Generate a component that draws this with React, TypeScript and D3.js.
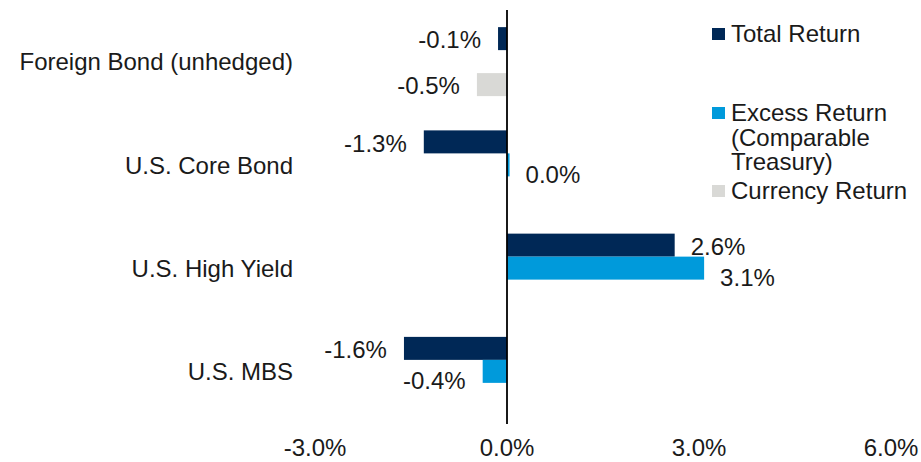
import React from 'react';
import * as d3 from 'd3';

const categories = ['Foreign Bond (unhedged)', 'U.S. Core Bond', 'U.S. High Yield', 'U.S. MBS'];
const seriesNames = ['Total Return', 'Excess Return', 'Currency Return'];
const totalReturn = [-0.14, -1.3, 2.62, -1.61];
const excessReturn: (number | null)[] = [null, 0.04, 3.08, -0.38];
const currencyReturn: (number | null)[] = [-0.47, null, null, null];
const xTicks = [-3, 0, 3, 6];
const legendLines = [['Total Return'], ['Excess Return', '(Comparable', 'Treasury)'], ['Currency Return']];

const colors = ['#002856', '#009ADB', '#D9D9D6'];

const App = () => {
  const width = 921;
  const height = 462;
  const font = '"Liberation Sans", Arial, sans-serif';
  const fs = 24;

  const x = d3.scaleLinear().domain([-3, 6]).range([315, 891]);
  const y0 = d3.scaleBand<string>().domain(categories).range([10, 423]).padding(0);
  const y1 = d3
    .scaleBand<string>()
    .domain(seriesNames)
    .range([0, y0.bandwidth()])
    .paddingInner(0)
    .paddingOuter(0.745);

  const allSeries = [totalReturn, excessReturn, currencyReturn];
  const fmt = (v: number) => v.toFixed(1) + '%';

  // legend item positions (Excel-like spread)
  const legendY = [42, 121, 199];

  return (
    <svg
      width={width}
      height={height}
      style={{ position: 'absolute', left: 0, top: 0, background: '#fff' }}
      fontFamily={font}
    >
      {allSeries.map((vals, si) =>
        vals.map((v, ci) => {
          if (v === null || v === undefined) return null;
          const yy = (y0(categories[ci]) as number) + (y1(seriesNames[si]) as number);
          const h = y1.bandwidth();
          const x0 = x(Math.min(0, v));
          const w = Math.abs(x(v) - x(0));
          const neg = v < 0;
          const lx = neg ? x(v) - 17 : x(v) + 16;
          const ly = yy + h / 2 + (si === 1 ? 9 : 1);
          return (
            <g key={`${si}-${ci}`}>
              <rect x={x0} y={yy} width={w} height={h} fill={colors[si]} />
              <text
                x={lx}
                y={ly}
                dy="0.36em"
                fontSize={fs}
                textAnchor={neg ? 'end' : 'start'}
                fill="#1a1a1a"
              >
                {fmt(v)}
              </text>
            </g>
          );
        })
      )}

      {/* zero axis line */}
      <line x1={x(0)} x2={x(0)} y1={10} y2={424} stroke="#000" strokeWidth={1.8} />

      {/* category labels */}
      {categories.map(c => (
        <text
          key={c}
          x={293}
          y={(y0(c) as number) + y0.bandwidth() / 2}
          dy="0.36em"
          fontSize={fs}
          textAnchor="end"
          fill="#1a1a1a"
        >
          {c}
        </text>
      ))}

      {/* x tick labels */}
      {xTicks.map(t => (
        <text key={t} x={x(t)} y={456} fontSize={fs} textAnchor="middle" fill="#1a1a1a">
          {fmt(t)}
        </text>
      ))}

      {/* legend */}
      {legendLines.map((lines, i) => (
        <g key={i}>
          <rect x={712} y={legendY[i] - 14} width={13} height={12} fill={colors[i]} />
          {lines.map((ln, j) => (
            <text key={j} x={731} y={legendY[i] + j * 24.5} fontSize={fs} fill="#1a1a1a">
              {ln}
            </text>
          ))}
        </g>
      ))}
    </svg>
  );
};

export default App;
